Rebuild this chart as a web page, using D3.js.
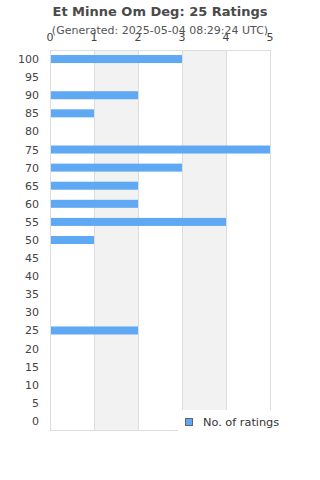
<!DOCTYPE html>
<html><head><meta charset="utf-8">
<script src="https://cdn.jsdelivr.net/npm/d3@7"></script>
<style>body{margin:0;background:#fff;}svg{display:block;font-family:"DejaVu Sans",sans-serif;}</style>
</head><body><svg id="c" width="320" height="480"></svg>
<script>
const categories = ["100","95","90","85","80","75","70","65","60","55","50","45","40","35","30","25","20","15","10","5","0"];
const ratings = [3,0,2,1,0,5,3,2,2,4,1,0,0,0,0,2,0,0,0,0,0];
const xTicks = [0,1,2,3,4,5];
const titleText = "Et Minne Om Deg: 25 Ratings";
const subtitleText = "(Generated: 2025-05-04 08:29:24 UTC)";
const legendLabel = "No. of ratings";

const svg = d3.select("#c");
const L = 50, R = 270, T = 50, B = 430;
const x = d3.scaleLinear().domain([0,5]).range([L,R]);
const y = d3.scaleBand().domain(categories).range([T,B]);

svg.selectAll("rect.band").data([[1,2],[3,4]]).join("rect")
  .attr("x", d=>x(d[0])).attr("width", d=>x(d[1])-x(d[0]))
  .attr("y", T).attr("height", B-T).attr("fill", "#f2f2f2");
svg.selectAll("line.grid").data(xTicks).join("line")
  .attr("x1", d=>x(d)+0.5).attr("x2", d=>x(d)+0.5).attr("y1", T).attr("y2", B)
  .attr("stroke", "#dddddd").attr("stroke-width", 1);
svg.append("line").attr("x1",L).attr("x2",R).attr("y1",T+0.5).attr("y2",T+0.5).attr("stroke","#dddddd");
svg.append("line").attr("x1",L).attr("x2",R).attr("y1",B+0.5).attr("y2",B+0.5).attr("stroke","#dddddd");

svg.selectAll("rect.bar").data(categories).join("rect")
  .attr("x", x(0)+1).attr("y", (d)=>y(d)+y.bandwidth()/2-4)
  .attr("width", (d,i)=>Math.max(0, x(ratings[i])-x(0)-1)).attr("height", 8)
  .attr("fill", "#5fa8f3");

svg.selectAll("text.xt").data(xTicks).join("text")
  .attr("x", d=>x(d)).attr("y", 41).attr("text-anchor","middle")
  .attr("font-size", 11).attr("fill", "#444").text(d=>d);
svg.selectAll("text.yt").data(categories).join("text")
  .attr("x", 39).attr("y", d=>y(d)+y.bandwidth()/2+4).attr("text-anchor","end")
  .attr("font-size", 11).attr("fill", "#444").text(d=>d);

svg.append("text").attr("x",160).attr("y",16).attr("text-anchor","middle")
  .attr("font-size",13).attr("font-weight","bold").attr("fill","#4a4a4a").text(titleText);
svg.append("text").attr("x",160).attr("y",34).attr("text-anchor","middle")
  .attr("font-size",11).attr("fill","#555").text(subtitleText);

svg.append("rect").attr("x",178).attr("y",410).attr("width",142).attr("height",30).attr("fill","#fff");
svg.append("rect").attr("x",185.5).attr("y",418.5).attr("width",7).attr("height",7)
  .attr("fill","#5fa8f3").attr("stroke","#666").attr("stroke-width",1);
svg.append("text").attr("x",203).attr("y",426).attr("font-size",11.3).attr("fill","#333").text(legendLabel);
</script></body></html>
